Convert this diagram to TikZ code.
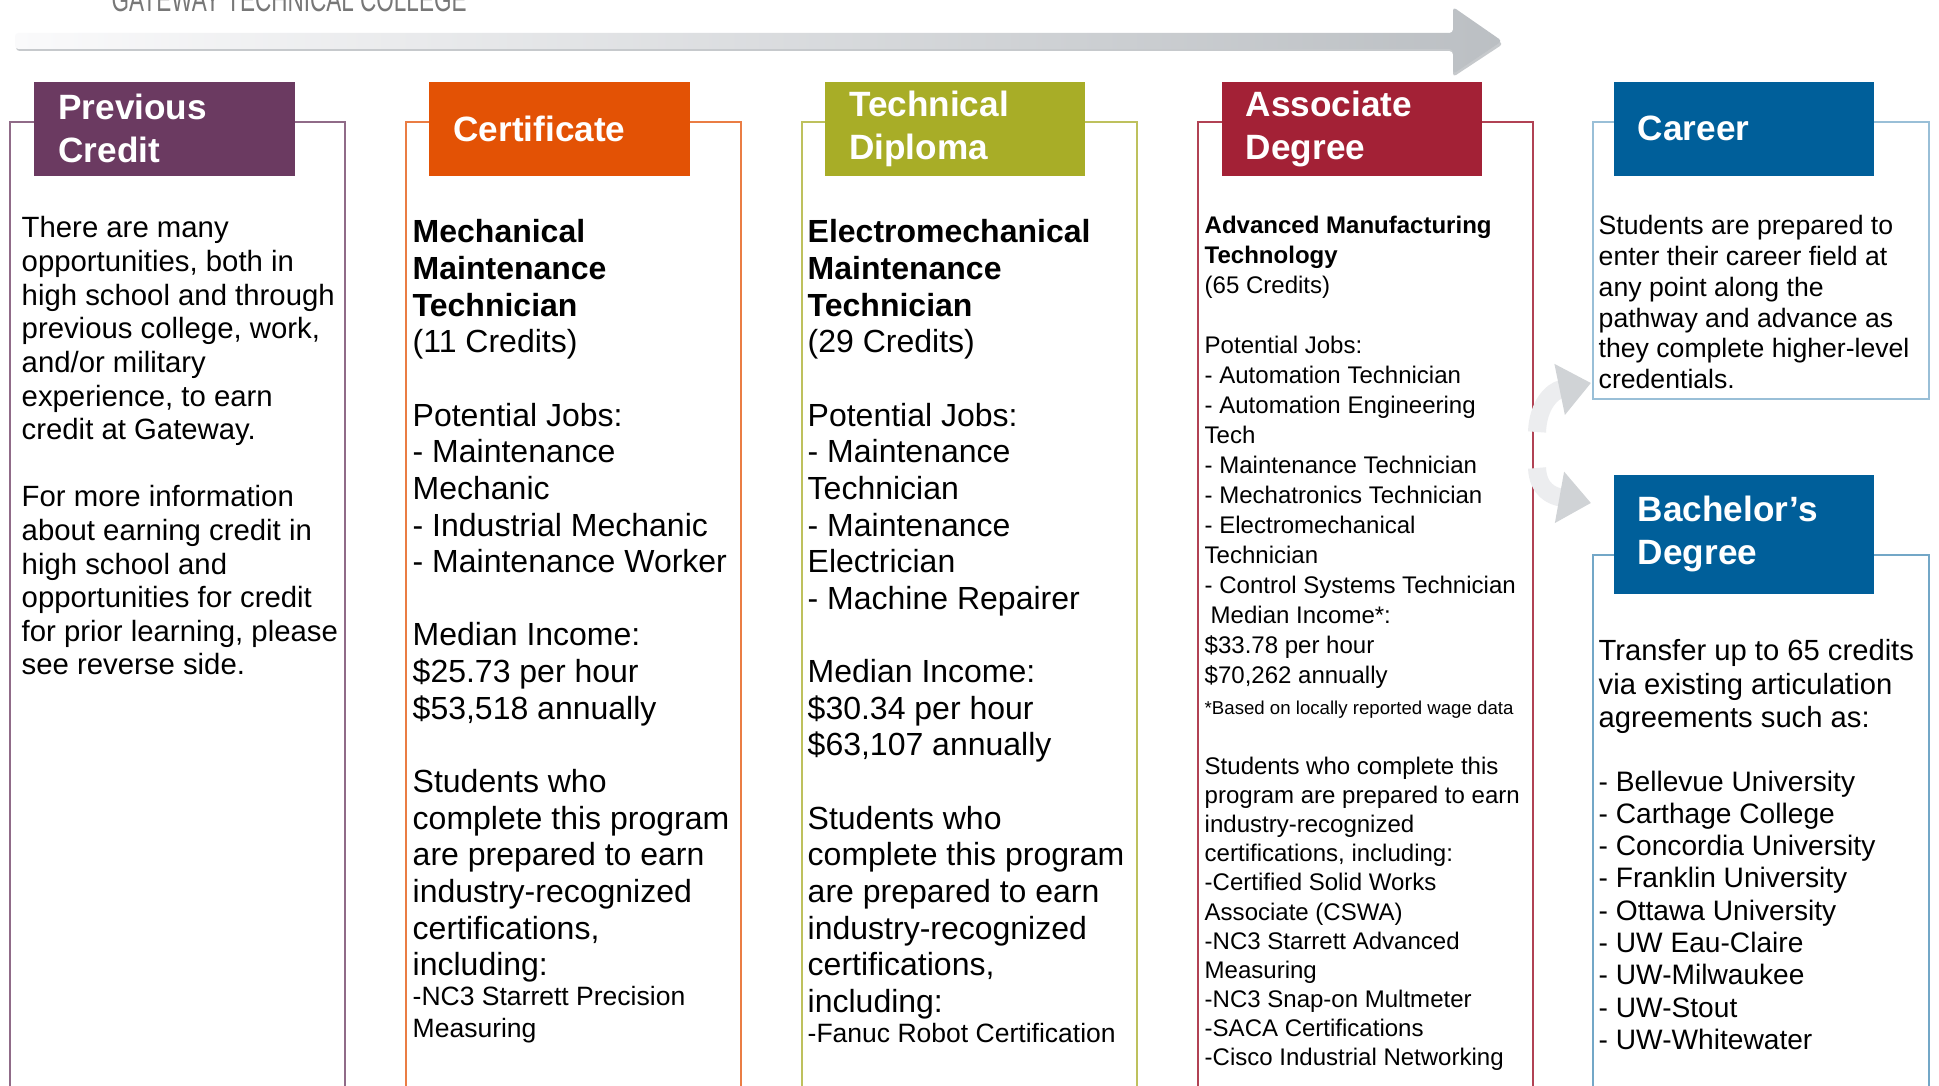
\documentclass[tikz,border=0pt]{standalone}
\usepackage{fontspec}
\setmainfont{Liberation Sans}
\usepackage{tikz}
\usetikzlibrary{arrows.meta}
\definecolor{prevpurple}{HTML}{6B3A61}
\definecolor{certorange}{HTML}{E35205}
\definecolor{diplolive}{HTML}{A8AD27}
\definecolor{assocred}{HTML}{A32136}
\definecolor{careerblue}{HTML}{005F9A}
\definecolor{barleft}{HTML}{FAFAFB}
\definecolor{barright}{HTML}{BBBFC3}
\definecolor{barshadow}{HTML}{C6C9CC}
\definecolor{titlegray}{HTML}{777777}
\definecolor{swoosh}{HTML}{ECEDEF}
\definecolor{swooshtip}{HTML}{D0D3D6}

\begin{document}
\begin{tikzpicture}[x=0.01cm, y=-0.01cm,
    head/.style={fill=#1, text=white, font=\fontsize{10}{12.2}\selectfont\bfseries, minimum width=2.6cm, minimum height=0.94cm, text width=2.12cm, align=left, inner xsep=0.24cm, inner ysep=0pt},
    body/.style={anchor=north west, inner sep=0pt, align=left},
    colframe/.style={draw=#1, line width=0.5pt},
    swooshline/.style={draw=swoosh, line width=0.18cm, -{Triangle[length=0.32cm, width=0.5cm, color=swooshtip]}}]
    \useasboundingbox[fill=white] (0,0) rectangle (1939,1086);

    \node [anchor=base west, inner sep=0pt, text=titlegray, font=\fontsize{9.7}{10}\selectfont] (college) at (111,12) {\scalebox{0.66}[1]{GATEWAY TECHNICAL COLLEGE}};
    \fill [barshadow, rounded corners=1pt] (16,35) -- (1453,35) -- (1453,10) -- (1503,44) -- (1453,77) -- (1453,51) -- (16,51) -- cycle;
    \shade [left color=barleft, right color=barright, rounded corners=1pt] (15,33) -- (1453,33) -- (1453,7) -- (1502,41) -- (1453,74) -- (1453,49) -- (15,49) -- cycle;

    \draw [colframe=prevpurple!75] (10,1100) -- (10,122) -- (345,122) -- (345,1100);
    \draw [colframe=certorange!75] (406,1100) -- (406,122) -- (741,122) -- (741,1100);
    \draw [colframe=diplolive!75] (802,1100) -- (802,122) -- (1137,122) -- (1137,1100);
    \draw [colframe=assocred!85] (1198,1100) -- (1198,122) -- (1533,122) -- (1533,1100);
    \draw [colframe=careerblue!40] (1593,122) rectangle (1929,399);
    \draw [colframe=careerblue!55] (1593,1100) -- (1593,555) -- (1929,555) -- (1929,1100);

    \node [head=prevpurple] (prevhead) at (164.5,128.6) {Previous\\Credit};
    \node [head=certorange] (certhead) at (559.5,128.6) {Certificate};
    \node [head=diplolive] (diplhead) at (955.3,128.6) {Technical\\Diploma};
    \node [head=assocred] (assochead) at (1352,128.6) {Associate\\Degree};
    \node [head=careerblue] (careerhead) at (1744,128.6) {Career};
    \node [head=careerblue, minimum height=1.19cm] (bachhead) at (1744,534.2) {Bachelor’s\\Degree};

    \node [body, font=\fontsize{8.34}{9.56}\selectfont] (prevtext) at (21,216) {There are many\\opportunities, both in\\high school and through\\previous college, work,\\and/or military\\experience, to earn\\credit at Gateway.\\ \\For more information\\about earning credit in\\high school and\\opportunities for credit\\for prior learning, please\\see reverse side.};

    \node [body, font=\fontsize{9.1}{10.42}\selectfont] (certtext) at (412,219) {\textbf{Mechanical}\\\textbf{Maintenance}\\\textbf{Technician}\\(11 Credits)\\ \\Potential Jobs:\\- Maintenance\\Mechanic\\- Industrial Mechanic\\- Maintenance Worker\\ \\Median Income:\\\$25.73 per hour\\\$53,518 annually\\ \\Students who\\complete this program\\are prepared to earn\\industry-recognized\\certifications,\\including:};
    \node [body, font=\fontsize{7.54}{9.1}\selectfont] (certnote) at (412,986) {-NC3 Starrett Precision\\Measuring};

    \node [body, font=\fontsize{9.1}{10.42}\selectfont] (dipltext) at (807,219) {\textbf{Electromechanical}\\\textbf{Maintenance}\\\textbf{Technician}\\(29 Credits)\\ \\Potential Jobs:\\- Maintenance\\Technician\\- Maintenance\\Electrician\\- Machine Repairer\\ \\Median Income:\\\$30.34 per hour\\\$63,107 annually\\ \\Students who\\complete this program\\are prepared to earn\\industry-recognized\\certifications,\\including:};
    \node [anchor=base west, inner sep=0pt, font=\fontsize{7.54}{9.1}\selectfont] (diplnote) at (807,1043) {-Fanuc Robot Certification};

    \node [body, font=\fontsize{6.83}{8.54}\selectfont] (assoctext) at (1204,215) {\textbf{Advanced Manufacturing}\\\textbf{Technology}\\(65 Credits)\\ \\Potential Jobs:\\- Automation Technician\\- Automation Engineering\\Tech\\- Maintenance Technician\\- Mechatronics Technician\\- Electromechanical\\Technician\\- Control Systems Technician\\\hspace*{0.25em}Median Income*:\\\$33.78 per hour\\\$70,262 annually};
    \node [anchor=base west, inner sep=0pt, font=\fontsize{5.3}{6}\selectfont] (assocnote) at (1204,715) {*Based on locally reported wage data};
    \node [body, font=\fontsize{6.83}{8.3}\selectfont] (assoclist) at (1204,756) {Students who complete this\\program are prepared to earn\\industry-recognized\\certifications, including:\\-Certified Solid Works\\Associate (CSWA)\\-NC3 Starrett Advanced\\Measuring\\-NC3 Snap-on Multmeter\\-SACA Certifications\\-Cisco Industrial Networking};

    \node [body, font=\fontsize{7.57}{8.73}\selectfont] (careertext) at (1598,215) {Students are prepared to\\enter their career field at\\any point along the\\pathway and advance as\\they complete higher-level\\credentials.};
    \node [body, font=\fontsize{8.3}{9.5}\selectfont] (bachtext) at (1598,639) {Transfer up to 65 credits\\via existing articulation\\agreements such as:};
    \node [body, font=\fontsize{8.0}{9.18}\selectfont] (bachlist) at (1598,770) {- Bellevue University\\- Carthage College\\- Concordia University\\- Franklin University\\- Ottawa University\\- UW Eau-Claire\\- UW-Milwaukee\\- UW-Stout\\- UW-Whitewater};

    \coordinate (upfrom) at (1537,432);
    \coordinate (upto) at (1591,383);
    \coordinate (downfrom) at (1537,468);
    \coordinate (downto) at (1591,503);
    \draw [swooshline] (upfrom) .. controls (1538,405) and (1552,391) .. (upto);
    \draw [swooshline] (downfrom) .. controls (1538,490) and (1552,496) .. (downto);
\end{tikzpicture}
\end{document}
